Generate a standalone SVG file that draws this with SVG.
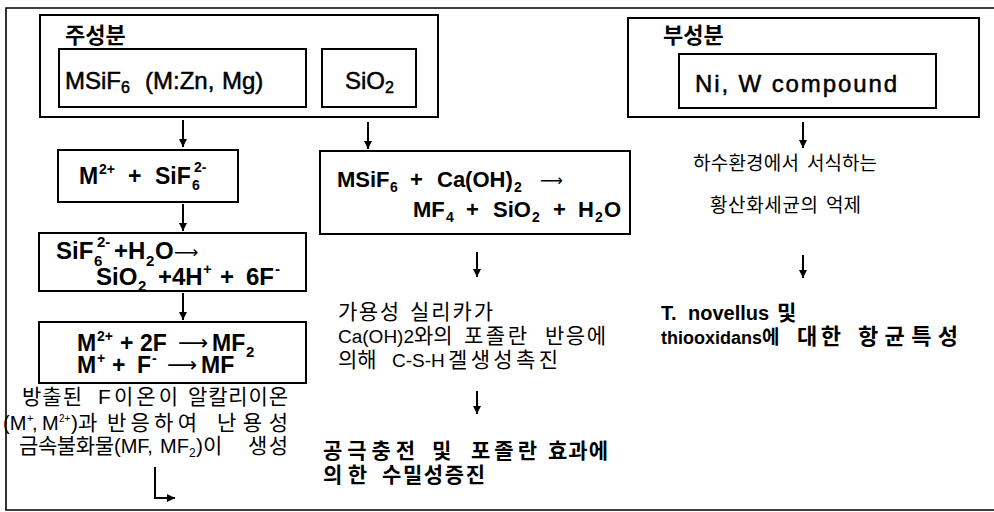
<svg xmlns="http://www.w3.org/2000/svg" width="994" height="512" viewBox="0 0 994 512">
<defs>
<marker id="ah" markerWidth="9" markerHeight="9" refX="8" refY="4" orient="auto" markerUnits="userSpaceOnUse">
<path d="M0,0 L8,4 L0,8 z" fill="#000"/>
</marker>
<style>
text{font-family:'Liberation Sans','Noto Sans CJK KR',sans-serif;fill:#000}
.box{fill:none;stroke:#000;stroke-width:2}
.frame{fill:none;stroke:#000;stroke-width:1.6}
.eq{font-size:22px;font-weight:bold}
.top{font-size:24px;stroke:#000;stroke-width:0.5}
.lbl{font-size:22px;font-weight:bold}
.kr{font-size:21px}
.krb{font-size:21px;font-weight:bold}
.s{font-size:14px}
.ar{font-family:'DejaVu Sans',sans-serif;font-weight:normal}
.con{fill:none;stroke:#000;stroke-width:2;marker-end:url(#ah)}
</style>
</defs>
<rect width="994" height="512" fill="#fff"/>
<path class="frame" d="M994,8 H6 V510 H994"/>

<g id="main-component">
<rect class="box" x="40" y="15" width="398" height="102"/>
<text class="lbl" x="65" y="43">주성분</text>
</g>
<g id="msif6">
<rect class="box" x="59" y="49" width="247" height="58"/>
<text class="top" x="65" y="89">MSiF<tspan font-size="16" dy="4">6</tspan><tspan dy="-4" x="145">(M:Zn,</tspan><tspan x="222">Mg)</tspan></text>
</g>
<g id="sio2">
<rect class="box" x="322" y="49" width="94" height="58"/>
<text class="top" x="345" y="89">SiO<tspan font-size="16" dy="4">2</tspan></text>
</g>

<g id="sub-component">
<rect class="box" x="628" y="18" width="351" height="99"/>
<text class="lbl" x="663" y="43">부성분</text>
</g>
<g id="niw">
<rect class="box" x="679" y="54" width="257" height="54"/>
<text class="top" x="695" y="92" textLength="202" lengthAdjust="spacing">Ni, W compound</text>
</g>

<g id="ionize">
<rect class="box" x="58" y="150" width="180" height="52"/>
<text class="eq" y="184" style="font-size:23px"><tspan x="79">M</tspan><tspan class="s" x="99" y="174">2+</tspan><tspan x="128" y="184">+</tspan><tspan x="155">SiF</tspan><tspan class="s" x="192" y="190">6</tspan><tspan class="s" x="194" y="172">2-</tspan></text>
</g>

<g id="hydrolysis">
<rect class="box" x="39" y="233" width="267" height="58"/>
<text class="eq" style="font-size:24px" y="259"><tspan x="56">SiF</tspan><tspan class="s" style="font-size:15px" x="94" y="266">6</tspan><tspan class="s" style="font-size:15px" x="97" y="247">2-</tspan><tspan x="114" y="259">+H</tspan><tspan class="s" style="font-size:15px" x="146" y="266">2</tspan><tspan x="155" y="259">O</tspan><tspan class="ar" x="174" y="258" style="font-size:17px">⟶</tspan></text>
<text class="eq" style="font-size:24px" y="285"><tspan x="96">SiO</tspan><tspan class="s" style="font-size:15px" x="138" y="291">2</tspan><tspan x="158" y="285">+4H</tspan><tspan class="s" style="font-size:15px" x="203" y="274">+</tspan><tspan x="220" y="285">+</tspan><tspan x="246">6F</tspan><tspan class="s" style="font-size:15px" x="275" y="274">-</tspan></text>
</g>

<g id="fluoride">
<rect class="box" x="39" y="322" width="267" height="61"/>
<text class="eq" style="font-size:23px" y="351"><tspan x="77">M</tspan><tspan class="s" x="97" y="341">2+</tspan><tspan x="120" y="351">+</tspan><tspan x="140">2F</tspan><tspan class="ar" x="178" y="350" style="font-size:21px">⟶</tspan><tspan x="212" y="351">MF</tspan><tspan class="s" style="font-size:15px" x="246" y="357">2</tspan></text>
<text class="eq" style="font-size:23px" y="373"><tspan x="77">M</tspan><tspan class="s" x="97" y="363">+</tspan><tspan x="112" y="373">+</tspan><tspan x="137">F</tspan><tspan class="s" x="152" y="363">-</tspan><tspan class="ar" x="167" y="372" style="font-size:21px">⟶</tspan><tspan x="201" y="373">MF</tspan></text>
</g>

<g id="fluoride-note">
<text class="kr" y="404"><tspan x="22" textLength="60" lengthAdjust="spacing">방출된</tspan><tspan x="98" textLength="80" lengthAdjust="spacing">F이온이</tspan><tspan x="188" textLength="100" lengthAdjust="spacing">알칼리이온</tspan></text>
<text class="kr" y="430"><tspan x="3" style="font-size:20px">(M</tspan><tspan font-size="11" x="27" y="422">+</tspan><tspan x="32" y="430" style="font-size:20px">,</tspan><tspan x="42" style="font-size:20px">M</tspan><tspan font-size="10" x="59" y="422">2+</tspan><tspan x="71" y="430">)과</tspan><tspan x="107" textLength="90" lengthAdjust="spacing">반응하여</tspan><tspan x="217" textLength="71" lengthAdjust="spacing">난용성</tspan></text>
<text class="kr" y="453"><tspan x="19" textLength="95" lengthAdjust="spacing">금속불화물</tspan><tspan x="114" style="font-size:20px">(MF,</tspan><tspan x="160" style="font-size:20px">MF</tspan><tspan font-size="12" x="189" y="457">2</tspan><tspan x="196" y="453">)이</tspan><tspan x="248" textLength="40" lengthAdjust="spacing">생성</tspan></text>
</g>

<g id="pozzolan">
<rect class="box" x="320" y="151" width="310" height="83"/>
<text class="eq" y="187"><tspan x="337">MSiF</tspan><tspan class="s" x="390" y="192">6</tspan><tspan x="410" y="187">+</tspan><tspan x="437">Ca(OH)</tspan><tspan class="s" x="514" y="192">2</tspan><tspan class="ar" x="540" y="186" style="font-size:16px">⟶</tspan></text>
<text class="eq" y="217"><tspan x="413">MF</tspan><tspan class="s" x="446" y="222">4</tspan><tspan x="466" y="217">+</tspan><tspan x="493">SiO</tspan><tspan class="s" x="532" y="222">2</tspan><tspan x="553" y="217">+</tspan><tspan x="578">H</tspan><tspan class="s" x="595" y="222">2</tspan><tspan x="604" y="217">O</tspan></text>
</g>

<g id="csh-note">
<text class="kr" y="319"><tspan x="338" textLength="61" lengthAdjust="spacing">가용성</tspan><tspan x="410" textLength="83" lengthAdjust="spacing">실리카가</tspan></text>
<text class="kr" y="343"><tspan x="338" style="font-size:19px">Ca(OH)2</tspan><tspan x="414">와의</tspan><tspan x="464" textLength="63" lengthAdjust="spacing">포졸란</tspan><tspan x="545" textLength="61" lengthAdjust="spacing">반응에</tspan></text>
<text class="kr" y="367"><tspan x="338">의해</tspan><tspan x="392" style="font-size:19px">C-S-H</tspan><tspan x="448" textLength="110" lengthAdjust="spacing">겔생성촉진</tspan></text>
</g>

<g id="watertight">
<text class="krb" y="458"><tspan x="323" textLength="92" lengthAdjust="spacing">공극충전</tspan><tspan x="432">및</tspan><tspan x="471" textLength="66" lengthAdjust="spacing">포졸란</tspan><tspan x="548" textLength="60" lengthAdjust="spacing">효과에</tspan></text>
<text class="krb" y="482"><tspan x="323" textLength="44" lengthAdjust="spacing">의한</tspan><tspan x="382" textLength="103" lengthAdjust="spacing">수밀성증진</tspan></text>
</g>

<g id="bacteria-note">
<text class="kr" style="font-size:19px" y="170"><tspan x="693" textLength="106" lengthAdjust="spacing">하수환경에서</tspan><tspan x="807" textLength="70" lengthAdjust="spacing">서식하는</tspan></text>
<text class="kr" style="font-size:19px" y="212"><tspan x="710" textLength="108" lengthAdjust="spacing">황산화세균의</tspan><tspan x="826">억제</tspan></text>
</g>

<g id="antibacterial">
<text class="krb" y="320"><tspan x="661" style="font-size:20px">T.</tspan><tspan x="688" style="font-size:20px">novellus</tspan><tspan x="777">및</tspan></text>
<text class="krb" y="344"><tspan x="661" style="font-size:18px">thiooxidans</tspan><tspan x="762" style="font-size:19px">에</tspan><tspan x="797" style="font-size:22px" textLength="44" lengthAdjust="spacing">대한</tspan><tspan x="858" textLength="100" lengthAdjust="spacing" style="font-size:22px">항균특성</tspan></text>
</g>

<g id="connectors">
<line class="con" x1="183" y1="120" x2="183" y2="147"/>
<line class="con" x1="183" y1="204" x2="183" y2="231"/>
<line class="con" x1="183" y1="293" x2="183" y2="320"/>
<path class="con" d="M155,467 V498 H175"/>
<line class="con" x1="368" y1="122" x2="368" y2="149"/>
<line class="con" x1="477" y1="252" x2="477" y2="277"/>
<line class="con" x1="477" y1="391" x2="477" y2="414"/>
<line class="con" x1="803" y1="122" x2="803" y2="148"/>
<line class="con" x1="803" y1="255" x2="803" y2="278"/>
</g>
</svg>
